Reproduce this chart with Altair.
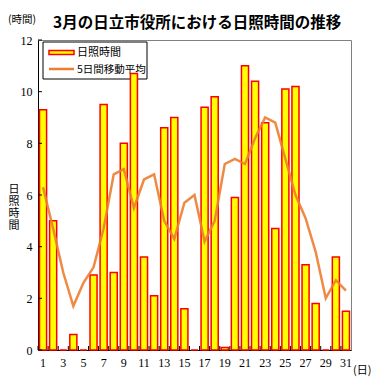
import altair as alt
import pandas as pd

days = list(range(1, 32))
sunshine = [9.3, 5.0, 0.0, 0.6, 0.0, 2.9, 9.5, 3.0, 8.0, 10.7, 3.6, 2.1, 8.6, 9.0, 1.6, 0.0,
            9.4, 9.8, 0.1, 5.9, 11.0, 10.4, 8.8, 4.7, 10.1, 10.2, 3.3, 1.8, 0.0, 3.6, 1.5]
moving_avg = [6.3, 4.7, 3.0, 1.7, 2.6, 3.2, 4.7, 6.8, 7.0, 5.5, 6.6, 6.8, 5.0, 4.3, 5.7, 6.0,
              4.2, 5.0, 7.2, 7.4, 7.2, 8.2, 9.0, 8.8, 7.4, 6.0, 5.1, 3.8, 2.0, 2.7, 2.3]
y_ticks = [0, 2, 4, 6, 8, 10, 12]

title_text = "3月の日立市役所における日照時間の推移"
unit_y = "(時間)"
unit_x = "(日)"
y_title = ["日", "照", "時", "間"]
legend_bar = "日照時間"
legend_line = "5日間移動平均"

df = pd.DataFrame({"day": days, "sun": sunshine, "avg": moving_avg})
tick_df = pd.DataFrame({"v": y_ticks})
one = pd.DataFrame({"a": [1]})

JP = "Noto Sans CJK JP"
SERIF = "Liberation Serif"
W, H = 313, 310

xscale = alt.Scale(paddingInner=0.3, paddingOuter=0.15)
yscale = alt.Scale(domain=[0, 12], nice=False)
xaxis = alt.Axis(title=None, labelExpr="datum.value % 2 == 1 ? datum.label : ''",
                 labelAngle=0, ticks=False, labelPadding=7, domainColor="black",
                 labelFont=SERIF, labelFontSize=12, labelColor="black", grid=False)
yaxis = alt.Axis(title=None, values=y_ticks, ticks=False, labelPadding=6, domainColor="black",
                 labelFont=SERIF, labelFontSize=12, labelColor="black", grid=False)

X = alt.X("day:O", scale=xscale, axis=xaxis)

legend_box = alt.Chart(one).mark_rect(fill="white", stroke="black", strokeWidth=1).encode(
    x=alt.value(5), x2=alt.value(109), y=alt.value(2), y2=alt.value(39))
legend_sym1 = alt.Chart(one).mark_rect(fill="#FFFF00", stroke="#FF0000", strokeWidth=1.5).encode(
    x=alt.value(11), x2=alt.value(36), y=alt.value(10.5), y2=alt.value(14.5))
legend_sym2 = alt.Chart(one).mark_rule(color="#ED7D31", strokeWidth=2.5).encode(
    x=alt.value(11), x2=alt.value(36), y=alt.value(29))
legend_t1 = alt.Chart(one).mark_text(font=JP, fontSize=11, align="left", baseline="middle", color="black").encode(
    x=alt.value(39), y=alt.value(12.5), text=alt.value(legend_bar))
legend_t2 = alt.Chart(one).mark_text(font=JP, fontSize=10.5, align="left", baseline="middle", color="black").encode(
    x=alt.value(39), y=alt.value(29.5), text=alt.value(legend_line))

bars = alt.Chart(df).mark_bar(fill="#FFFF00", stroke="#FF0000", strokeWidth=1.5).encode(
    x=X, y=alt.Y("sun:Q", scale=yscale, axis=yaxis))

line = alt.Chart(df).mark_line(color="#ED7D31", strokeWidth=2.5, opacity=0.9).encode(
    x=X, y=alt.Y("avg:Q", scale=yscale, axis=yaxis))

xticks = alt.Chart(df).mark_rule(color="black", strokeWidth=1, xOffset=-1.5).encode(
    x=alt.X("day:O", scale=xscale, axis=xaxis, bandPosition=0),
    y=alt.value(H), y2=alt.value(H - 4))
yticks = alt.Chart(tick_df).mark_rule(color="black", strokeWidth=1).encode(
    y=alt.Y("v:Q", scale=yscale, axis=yaxis), x=alt.value(0), x2=alt.value(4))

title = alt.Chart(one).mark_text(font=JP, fontSize=15.5, fontWeight="bold", align="left",
                                 baseline="middle", color="black").encode(
    x=alt.value(15), y=alt.value(-17), text=alt.value(title_text))
uy = alt.Chart(one).mark_text(font=JP, fontSize=10.5, align="left", baseline="middle", color="black").encode(
    x=alt.value(-30), y=alt.value(-20), text=alt.value(unit_y))
ux = alt.Chart(one).mark_text(font=JP, fontSize=11, align="left", baseline="middle", color="black").encode(
    x=alt.value(315), y=alt.value(331), text=alt.value(unit_x))
yt = alt.Chart(one).mark_text(font=JP, fontSize=11, lineHeight=12, align="center", baseline="middle",
                              color="black").encode(
    x=alt.value(-24), y=alt.value(149.5), text=alt.value(y_title))

chart = alt.layer(legend_box, legend_sym1, legend_sym2, legend_t1, legend_t2,
                  bars, line, xticks, yticks, title, uy, ux, yt).properties(
    width=W, height=H,
    autosize=alt.AutoSizeParams(type="none"),
    padding={"left": 30, "top": 32, "right": 29, "bottom": 31},
).configure_view(stroke="#808080", strokeWidth=1)

chart.save("out.html", embed_options={"renderer": "svg", "actions": False})
